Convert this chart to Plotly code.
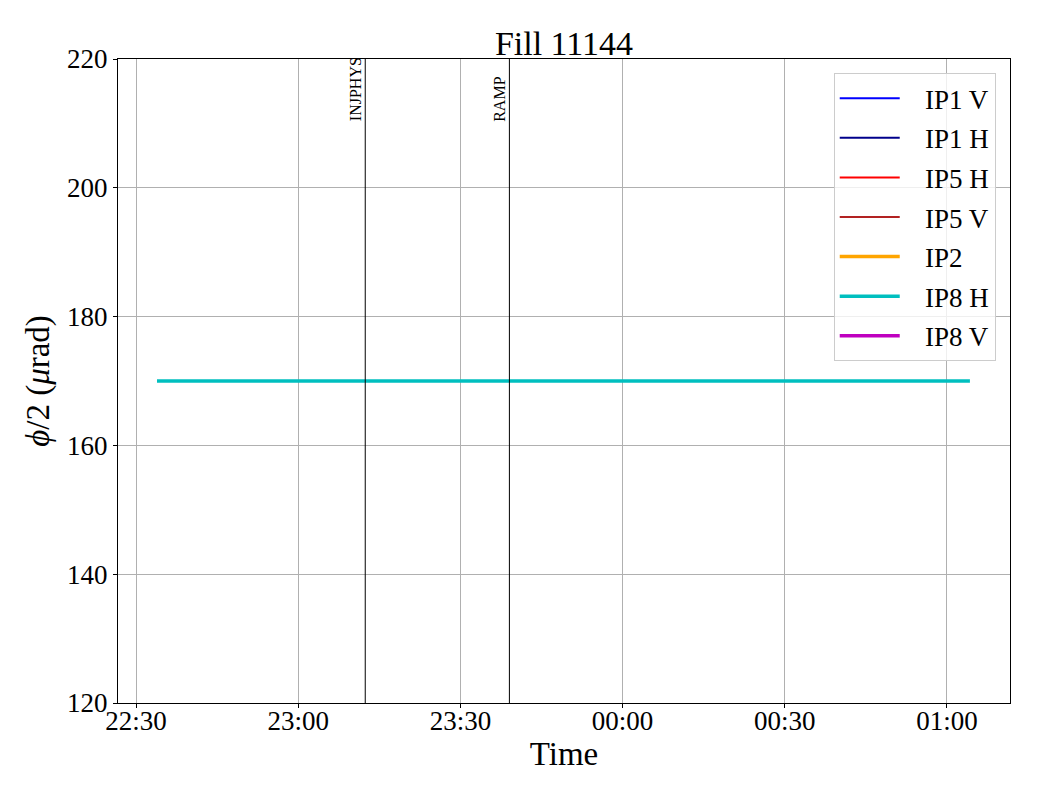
import plotly.graph_objects as go

# Data
series_names = ["IP1 V", "IP1 H", "IP5 H", "IP5 V", "IP2", "IP8 H", "IP8 V"]
series_colors = ["#0000ff", "#00008b", "#ff0000", "#b22222", "#ffa500", "#00bfbf", "#bf00bf"]
series_widths = [2, 2, 2, 2, 3.5, 3.5, 3.5]
series_x = {
    "IP1 V": [None], "IP1 H": [None], "IP5 H": [None], "IP5 V": [None], "IP2": [None],
    "IP8 H": ["2025-09-20 22:33:53", "2025-09-21 01:04:15"],
    "IP8 V": [None],
}
series_y = {
    "IP1 V": [None], "IP1 H": [None], "IP5 H": [None], "IP5 V": [None], "IP2": [None],
    "IP8 H": [170, 170],
    "IP8 V": [None],
}
mode_names = ["INJPHYS", "RAMP"]
mode_times = ["2025-09-20 23:12:24", "2025-09-20 23:39:04"]
mode_label_y = 210
x_range = ["2025-09-20 22:26:40", "2025-09-21 01:11:40"]
y_range = [120, 220]
y_ticks = [120, 140, 160, 180, 200, 220]
x_tickvals = ["2025-09-20 22:30", "2025-09-20 23:00", "2025-09-20 23:30",
              "2025-09-21 00:00", "2025-09-21 00:30", "2025-09-21 01:00"]
x_ticktext = ["22:30", "23:00", "23:30", "00:00", "00:30", "01:00"]

FONT = "Liberation Serif"

fig = go.Figure()
for name, color, w in zip(series_names, series_colors, series_widths):
    fig.add_trace(go.Scatter(
        x=series_x[name], y=series_y[name], mode="lines", name="\u00a0\u00a0\u00a0" + name,
        line=dict(color=color, width=w), legendgroup=name, showlegend=True,
    ))

for name, t in zip(mode_names, mode_times):
    fig.add_shape(type="line", x0=t, x1=t, y0=0, y1=1, xref="x", yref="paper",
                  line=dict(color="black", width=1))
    fig.add_annotation(x=t, y=mode_label_y, xref="x", yref="y", text=name, textangle=-90,
                       showarrow=False, xanchor="right", yanchor="bottom",
                       font=dict(family=FONT, size=16, color="black"), xshift=1)

fig.update_layout(
    width=1040, height=800,
    margin=dict(l=110, r=38, t=51, b=105),
    paper_bgcolor="white", plot_bgcolor="white",
    font=dict(family=FONT, color="black", size=27),
    title=dict(text="Fill 11144", xref="paper", x=0.5, xanchor="center",
               y=1 - 35 / 800, yanchor="middle",
               font=dict(family=FONT, size=34)),
    legend=dict(x=0.984, y=0.978, xanchor="right", yanchor="top",
                bgcolor="rgba(255,255,255,0.8)", bordercolor="#cccccc", borderwidth=1,
                font=dict(family=FONT, size=27), tracegroupgap=1.5, itemwidth=60),
    showlegend=True,
)
fig.update_xaxes(
    range=x_range, type="date", tickvals=x_tickvals, ticktext=x_ticktext,
    showgrid=True, gridcolor="#b0b0b0", gridwidth=1,
    showline=True, linecolor="black", linewidth=1, mirror=True,
    ticks="outside", ticklen=4, tickcolor="black",
    tickfont=dict(family=FONT, size=27), ticklabelstandoff=-10,
    title=dict(text="Time", font=dict(family=FONT, size=33), standoff=0),
    zeroline=False,
)
fig.update_yaxes(
    range=y_range, tickvals=y_ticks,
    showgrid=True, gridcolor="#b0b0b0", gridwidth=1,
    showline=True, linecolor="black", linewidth=1, mirror=True,
    ticks="outside", ticklen=4, tickcolor="black",
    tickfont=dict(family=FONT, size=27),
    title=dict(text="<i>ϕ</i>/2 (<i>μ</i>rad)", font=dict(family=FONT, size=33), standoff=7),
    zeroline=False,
)

fig.write_html("out.html")
